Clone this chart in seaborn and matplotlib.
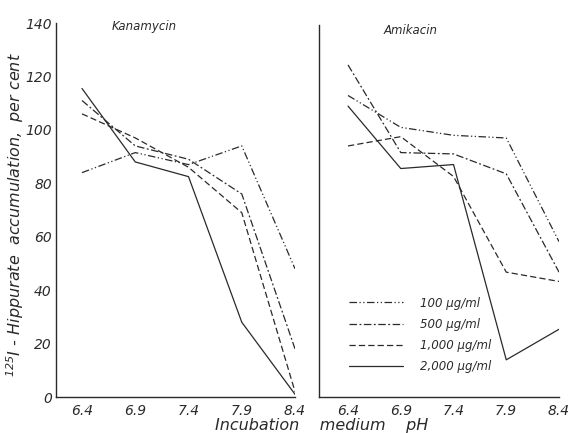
import matplotlib
matplotlib.use('Agg')
import matplotlib.pyplot as plt
import seaborn as sns
import pandas as pd
from matplotlib.ticker import MultipleLocator

# incubation medium pH values (x axis)
ph_values = [6.4, 6.9, 7.4, 7.9, 8.4]
concentrations = ['100 µg/ml', '500 µg/ml', '1,000 µg/ml', '2,000 µg/ml']

# 125I-hippurate accumulation, per cent
kanamycin_100 = [84, 91.5, 87, 94, 48]
kanamycin_500 = [111, 94, 89, 76, 18]
kanamycin_1000 = [106, 97, 86, 69, 2]
kanamycin_2000 = [115.5, 88, 82.5, 28, 1]

amikacin_100 = [113.5, 101.5, 98.5, 97.5, 58.5]
amikacin_500 = [125, 92, 91.5, 84, 47]
amikacin_1000 = [94.5, 98, 83, 47, 43.5]
amikacin_2000 = [109.5, 86, 87.5, 14, 25.5]

drugs = {
    'Kanamycin': [kanamycin_100, kanamycin_500, kanamycin_1000, kanamycin_2000],
    'Amikacin': [amikacin_100, amikacin_500, amikacin_1000, amikacin_2000],
}

rows = []
for drug, series in drugs.items():
    for conc, vals in zip(concentrations, series):
        for ph, v in zip(ph_values, vals):
            rows.append({'drug': drug, 'conc': conc, 'pH': ph, 'value': v})
df = pd.DataFrame(rows)

sns.set_style('white')
plt.rcParams['font.family'] = ['DejaVu Sans']
plt.rcParams['font.style'] = 'italic'

line_dashes = {
    '100 µg/ml': (6, 2, 1, 2, 1, 2),
    '500 µg/ml': (6, 2, 1.5, 2),
    '1,000 µg/ml': (5, 2.5),
    '2,000 µg/ml': '',
}
ink = '#2a2a2a'

fig = plt.figure(figsize=(5.71, 4.33), dpi=100)
ax_k = fig.add_axes([0.0981, 0.0831, 0.4186, 0.8637])
ax_a = fig.add_axes([0.5587, 0.0831, 0.4203, 0.8590])

for ax, drug, xmin in [(ax_k, 'Kanamycin', 6.156), (ax_a, 'Amikacin', 6.125)]:
    sub = df[df['drug'] == drug]
    sns.lineplot(data=sub, x='pH', y='value', style='conc', dashes=line_dashes,
                 style_order=concentrations, color=ink, linewidth=0.9, ax=ax,
                 legend=(drug == 'Amikacin'))
    ax.set_xlim(xmin, 8.4)
    ax.set_ylim(0, 140)
    ax.set_xticks(ph_values)
    ax.set_xticklabels([str(p) for p in ph_values])
    ax.yaxis.set_major_locator(MultipleLocator(20))
    ax.yaxis.set_minor_locator(MultipleLocator(10))
    ax.tick_params(axis='both', which='both', direction='in', color=ink,
                   labelsize=10, labelcolor=ink)
    ax.tick_params(axis='x', pad=5)
    ax.tick_params(axis='y', pad=3)
    ax.tick_params(axis='both', which='major', length=5, width=0.9)
    ax.tick_params(axis='y', which='minor', length=5, width=0.9)
    for side in ['top', 'right']:
        ax.spines[side].set_visible(False)
    for side in ['left', 'bottom']:
        ax.spines[side].set_color(ink)
        ax.spines[side].set_linewidth(1.0)
    ax.set_xlabel('')
    ax.set_ylabel('')

ax_a.tick_params(axis='y', labelleft=False)

ax_k.text(0.37, 0.99, 'Kanamycin', transform=ax_k.transAxes, ha='center',
          va='center', fontsize=8.5, color=ink)
ax_a.text(0.38, 0.985, 'Amikacin', transform=ax_a.transAxes, ha='center',
          va='center', fontsize=8.5, color=ink)

leg = ax_a.legend(loc='lower left', bbox_to_anchor=(0.08, 0.035), frameon=False,
                  handlelength=4.6, handletextpad=1.4, labelspacing=0.7,
                  fontsize=8.5)
for line in leg.get_lines():
    line.set_linewidth(0.9)
for t in leg.get_texts():
    t.set_color(ink)

fig.text(0.027, 0.505, '$^{125}$I - Hippurate  accumulation,  per cent',
         rotation=90, ha='center', va='center', fontsize=11.5, color=ink)
fig.text(0.563, 0.017, 'Incubation    medium    pH', ha='center', va='center',
         fontsize=11.5, color=ink)

fig.savefig('out.png', dpi=100)
